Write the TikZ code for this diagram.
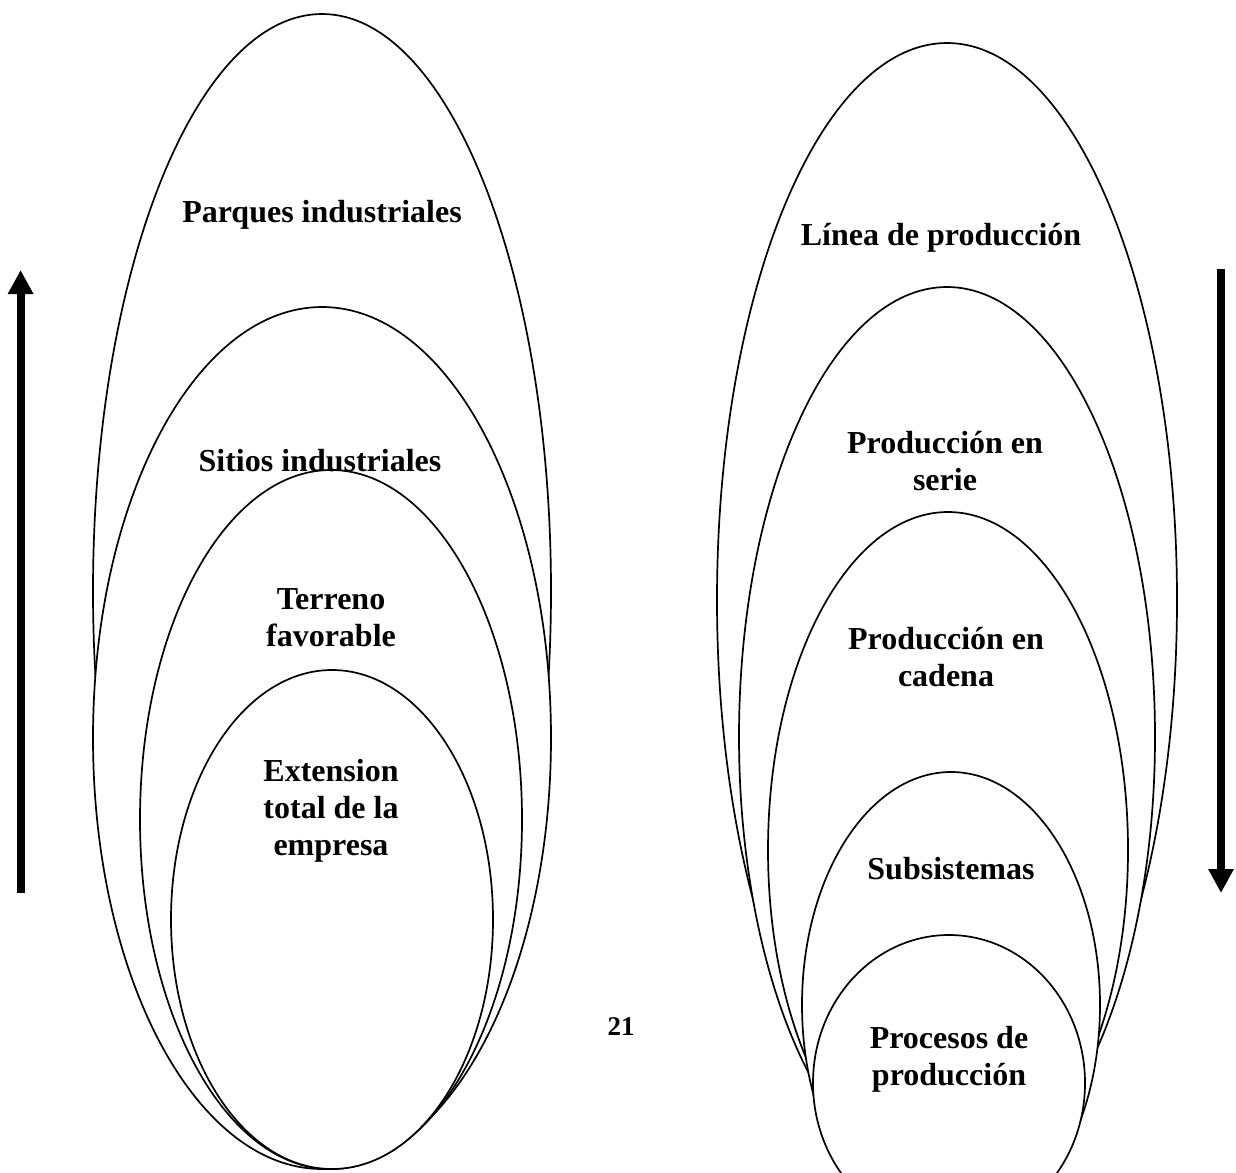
\documentclass[tikz,border=0pt]{standalone}
\usepackage{fontspec}
\setmainfont{Liberation Serif}
\usetikzlibrary{arrows.meta}

\tikzset{
  ring/.style={draw=black, line width=1.7pt, fill=white},
  label/.style={font=\fontsize{32}{37}\selectfont\bfseries, align=center, anchor=base, inner sep=0pt},
  pagenum/.style={font=\fontsize{27}{31}\selectfont\bfseries, anchor=base, inner sep=0pt},
  bigarrow/.style={line width=8pt, -{Triangle[width=24pt, length=24pt]}}
}

\begin{document}
\begin{tikzpicture}[x=1pt, y=-1pt]
  \useasboundingbox (0,0) rectangle (1236,1172);
  \clip (0,0) rectangle (1236,1172);

  % nested scopes of land use (widest first)
  \draw[ring] (322,591)   ellipse [x radius=229pt, y radius=577pt];
  \draw[ring] (322,738)   ellipse [x radius=229pt, y radius=431pt];
  \draw[ring] (331,819.5) ellipse [x radius=191pt, y radius=349.5pt];
  \draw[ring] (332,919.5) ellipse [x radius=161pt, y radius=249.5pt];

  % nested levels of production (widest first)
  \draw[ring] (947,600)  ellipse [x radius=230pt, y radius=557pt];
  \draw[ring] (947,737)  ellipse [x radius=208pt, y radius=450pt];
  \draw[ring] (948,850)  ellipse [x radius=180pt, y radius=338pt];
  \draw[ring] (951,1005) ellipse [x radius=149pt, y radius=233pt];
  \draw[ring] (949,1083) ellipse [x radius=136pt, y radius=148pt];

  % labels (base anchor = baseline of the last line)
  \node[label] (parques)   at (322,222)  {Parques industriales};
  \node[label] (sitios)    at (320,471)  {Sitios industriales};
  \node[label] (terreno)   at (331,646)  {Terreno\\favorable};
  \node[label] (extension) at (331,855)  {Extension\\total de la\\empresa};

  \node[label] (linea)     at (941,245)  {Línea de producción};
  \node[label] (serie)     at (945,490)  {Producción en\\serie};
  \node[label] (cadena)    at (946,686)  {Producción en\\cadena};
  \node[label] (subsis)    at (951,879)  {Subsistemas};
  \node[label] (procesos)  at (949,1085) {Procesos de\\producción};

  \node[pagenum] (pagina) at (621,1035) {21};

  % direction arrows
  \coordinate (upTail)   at (20.6,893);
  \coordinate (upTip)    at (20.6,270);
  \coordinate (downTail) at (1221,269);
  \coordinate (downTip)  at (1221,893);
  \draw[bigarrow] (upTail) -- (upTip);
  \draw[bigarrow] (downTail) -- (downTip);
\end{tikzpicture}
\end{document}
